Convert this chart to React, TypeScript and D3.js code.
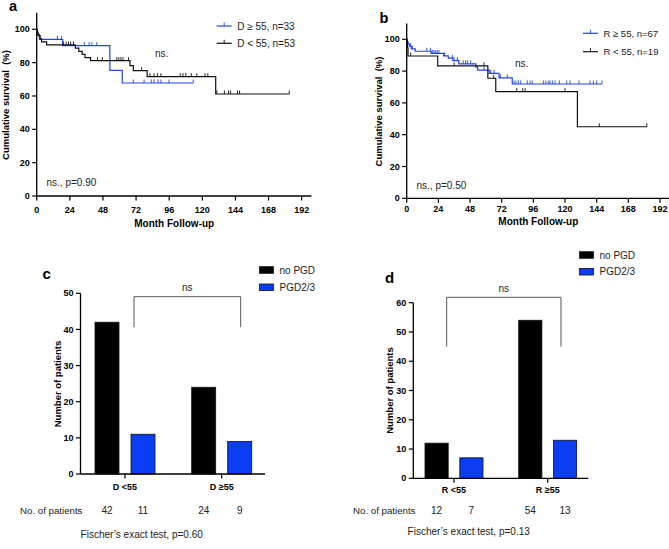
import React from "react";
import * as d3 from "d3";

const FONT = "'Liberation Sans', Arial, Helvetica, sans-serif";
const LINE_BLUE = "#2146e0";
const BAR_BLUE = "#0b3df2";
const TEXT = "#222";

// ---------- Panel a data (Kaplan–Meier, donor age) ----------
const aBlueLabel = "D ≥ 55, n=33";
const aBlueT = [0, 0.6, 2, 18.8, 53, 62];
const aBlueS = [100, 97, 93.9, 90.2, 75.4, 67.8];
const aBlueEnd = 113.4;
const aBlueCens = [15, 18, 34.5, 38, 40, 43.5, 70, 77.8, 83, 85, 88, 90, 95.9, 113.4];

const aBlackLabel = "D < 55, n=53";
const aBlackT = [0, 0.3, 1, 2.5, 3.5, 7.2, 28, 30.5, 33, 35, 39, 67.6, 70, 80, 129.7];
const aBlackS = [100, 98.1, 96.2, 94.3, 92.5, 90.6, 88.7, 86.8, 84.9, 83.0, 81.2, 78.2, 75.2, 71.6, 61.2];
const aBlackEnd = 183;
const aBlackCens = [19.3, 21.3, 23, 24.6, 26.6, 44, 47.5, 58, 59.5, 61, 62.5, 66.5, 76, 82, 85, 87.5, 90, 104, 106, 108, 112, 116, 122, 124, 130.5, 136, 139, 140.5, 145.5, 147, 183];

// ---------- Panel b data (Kaplan–Meier, recipient age) ----------
const bBlueLabel = "R ≥ 55, n=67";
const bBlueT = [0, 0.5, 1, 2, 3.5, 6.5, 18.5, 28, 31.5, 35, 39.5, 52.5, 53.8, 62.5, 70, 80];
const bBlueS = [100, 98.5, 97, 95.5, 94, 92.5, 91.1, 89.6, 88.1, 86.6, 84.6, 82.5, 80.6, 78.6, 75.8, 71.9];
const bBlueEnd = 148;
const bBlueCens = [3, 4.3, 15.2, 18, 19.4, 20.7, 22, 23.2, 24.5, 28.8, 34.6, 35.9, 38.4, 42.9, 44.7, 46, 48.5, 58.6, 63.7, 66.2, 71, 76.3, 81.4, 82.9, 84.6, 86.4, 91.4, 93.5, 95.2, 103.6, 105.4, 107.3, 108.6, 110.4, 112.4, 115.7, 121.3, 123.8, 130.6, 138.9, 141.5, 144, 148];

const bBlackLabel = "R < 55, n=19";
const bBlackT = [0, 0.5, 1, 23.5, 61.5, 67.5, 129.4];
const bBlackS = [100, 94.7, 89.5, 83.3, 75.5, 67.1, 45];
const bBlackEnd = 182;
const bBlackCens = [3, 36, 58.6, 66, 83.4, 87.9, 89.7, 120, 146, 182];

const kmXTicks = [0, 24, 48, 72, 96, 120, 144, 168, 192];
const kmYTicks = [0, 20, 40, 60, 80, 100];

// ---------- Panels c / d data (bars) ----------
const barSeries = ["no PGD", "PGD2/3"];
const cCategories = ["D <55", "D ≥55"];
const cNoPGD = [42, 24];
const cPGD = [11, 9];
const cYTicks = [0, 10, 20, 30, 40, 50];
const cP = "Fischer’s exact test, p=0.60";

const dCategories = ["R <55", "R ≥55"];
const dNoPGD = [12, 54];
const dPGD = [7, 13];
const dYTicks = [0, 10, 20, 30, 40, 50, 60];
const dP = "Fischer’s exact test, p=0.13";

type Curve = { t: number[]; s: number[]; end: number; cens: number[]; color: string; label: string };

function survAt(c: Curve, t: number) {
  let v = c.s[0];
  for (let i = 0; i < c.t.length; i++) if (c.t[i] <= t) v = c.s[i];
  return v;
}

function KMPanel(props: {
  letter: string; letterX: number; letterY: number;
  x0: number; x192: number; y0: number; y100: number;
  curves: Curve[]; legX: number; legY: number; legGap: number; legFont: number;
  nsX: number; nsY: number; pText: string; pX: number; pY: number;
  yLabX: number; yLabY: number; xLabY: number; tickLabY: number;
}) {
  const x = d3.scaleLinear().domain([0, 192]).range([props.x0, props.x192]);
  const y = d3.scaleLinear().domain([0, 100]).range([props.y0, props.y100]);
  const line = d3.line<[number, number]>().x(d => x(d[0])).y(d => y(d[1])).curve(d3.curveStepAfter);
  return (
    <g>
      <text x={props.letterX} y={props.letterY} fontFamily={FONT} fontWeight="bold" fontSize={14.5} fill="#000">{props.letter}</text>
      {props.curves.map((c, i) => {
        const pts: [number, number][] = c.t.map((t, j) => [t, c.s[j]] as [number, number]);
        pts.push([c.end, c.s[c.s.length - 1]]);
        return (
          <g key={i}>
            <path d={line(pts) || ""} fill="none" stroke={c.color} strokeWidth={1.2} />
            {c.cens.map((t, j) => {
              const v = survAt(c, t);
              return <line key={j} x1={x(t)} x2={x(t)} y1={y(v)} y2={y(v) - 3.5} stroke={c.color} strokeWidth={0.9} />;
            })}
          </g>
        );
      })}
      {/* axes */}
      <line x1={x(0)} x2={x(0)} y1={y(0)} y2={y(110)} stroke="#000" strokeWidth={1.3} />
      <line x1={x(0)} x2={x(199)} y1={y(0)} y2={y(0)} stroke="#000" strokeWidth={1.3} />
      {kmYTicks.map(t => (
        <g key={"y" + t}>
          <line x1={x(0) - 4.5} x2={x(0)} y1={y(t)} y2={y(t)} stroke="#000" strokeWidth={1.2} />
          <text x={x(0) - 7} y={y(t)} dy="0.35em" textAnchor="end" fontFamily={FONT} fontWeight="bold" fontSize={9} fill="#000">{t}</text>
        </g>
      ))}
      {kmXTicks.map(t => (
        <g key={"x" + t}>
          <line x1={x(t)} x2={x(t)} y1={y(0)} y2={y(0) + 4.5} stroke="#000" strokeWidth={1.2} />
          <text x={x(t)} y={props.tickLabY} textAnchor="middle" fontFamily={FONT} fontWeight="bold" fontSize={9} fill="#000">{t}</text>
        </g>
      ))}
      <text x={(x(0) + x(192)) / 2 + 5} y={props.xLabY} textAnchor="middle" fontFamily={FONT} fontWeight="bold" fontSize={10} fill="#000">Month Follow-up</text>
      <text transform={`translate(${props.yLabX},${props.yLabY}) rotate(-90)`} textAnchor="middle" fontFamily={FONT} fontWeight="bold" fontSize={9.5} fill="#000" style={{ whiteSpace: "pre" }}>{"Cumulative survival  (%)"}</text>
      {/* legend */}
      {props.curves.map((c, i) => {
        const ly = props.legY + i * props.legGap;
        return (
          <g key={"l" + i}>
            <line x1={props.legX} x2={props.legX + 15} y1={ly} y2={ly} stroke={c.color} strokeWidth={1.2} />
            <line x1={props.legX + 7.5} x2={props.legX + 7.5} y1={ly} y2={ly - 3.5} stroke={c.color} strokeWidth={0.9} />
            <text x={props.legX + 20.5} y={ly} dy="0.35em" fontFamily={FONT} fontSize={props.legFont} fill={TEXT}>{c.label}</text>
          </g>
        );
      })}
      <text x={props.nsX} y={props.nsY} dy="0.35em" fontFamily={FONT} fontSize={10} fill={TEXT}>ns.</text>
      <text x={props.pX} y={props.pY} dy="0.35em" fontFamily={FONT} fontSize={10} fill={TEXT}>{props.pText}</text>
    </g>
  );
}

function BarPanel(props: {
  letter: string; letterX: number; letterY: number;
  categories: string[]; a: number[]; b: number[]; yTicks: number[]; yMax: number;
  axisX: number; axisRight: number; y0: number; yTop: number;
  c0: number; c1: number; half: number;
  bracketL: number; bracketR: number; bracketY: number; bracketLeg: number;
  legX: number; legY: number; legGap: number;
  yLabX: number; yLabY: number; catY: number;
  rowLabX: number; rowY: number; pText: string; pX: number; pY: number;
}) {
  const y = d3.scaleLinear().domain([0, props.yMax]).range([props.y0, props.yTop]);
  const xg = d3.scalePoint<string>().domain(props.categories).range([props.c0, props.c1]);
  const xs = d3.scaleBand<string>().domain(barSeries).range([-props.half, props.half]).paddingInner(1 / 3);
  const vals = [props.a, props.b];
  const fills = ["#000", BAR_BLUE];
  return (
    <g>
      <text x={props.letterX} y={props.letterY} fontFamily={FONT} fontWeight="bold" fontSize={15} fill="#000">{props.letter}</text>
      {props.categories.map((cat, ci) => (
        <g key={cat}>
          {barSeries.map((s, si) => {
            const v = vals[si][ci];
            const bx = (xg(cat) as number) + (xs(s) as number);
            return <rect key={s} x={bx} y={y(v)} width={xs.bandwidth()} height={y(0) - y(v)} fill={fills[si]} stroke="#111" strokeWidth={0.8} />;
          })}
          <line x1={xg(cat)} x2={xg(cat)} y1={y(0)} y2={y(0) + 4.5} stroke="#000" strokeWidth={1.2} />
          <text x={xg(cat)} y={props.catY} textAnchor="middle" fontFamily={FONT} fontWeight="bold" fontSize={9} fill="#000">{cat}</text>
          {barSeries.map((s, si) => {
            const bx = (xg(cat) as number) + (xs(s) as number) + xs.bandwidth() / 2;
            return <text key={s} x={bx} y={props.rowY} textAnchor="middle" fontFamily={FONT} fontSize={10} fill={TEXT}>{vals[si][ci]}</text>;
          })}
        </g>
      ))}
      <line x1={props.axisX} x2={props.axisX} y1={y(0)} y2={y(props.yMax)} stroke="#000" strokeWidth={1.3} />
      <line x1={props.axisX} x2={props.axisRight} y1={y(0)} y2={y(0)} stroke="#000" strokeWidth={1.3} />
      {props.yTicks.map(t => (
        <g key={t}>
          <line x1={props.axisX - 4.5} x2={props.axisX} y1={y(t)} y2={y(t)} stroke="#000" strokeWidth={1.2} />
          <text x={props.axisX - 7} y={y(t)} dy="0.35em" textAnchor="end" fontFamily={FONT} fontWeight="bold" fontSize={9} fill="#000">{t}</text>
        </g>
      ))}
      <path d={`M${props.bracketL},${props.bracketLeg}V${props.bracketY}H${props.bracketR}V${props.bracketLeg}`} fill="none" stroke="#555" strokeWidth={1} />
      <text x={(props.bracketL + props.bracketR) / 2} y={props.bracketY - 9} dy="0.35em" textAnchor="middle" fontFamily={FONT} fontSize={10} fill={TEXT}>ns</text>
      <text transform={`translate(${props.yLabX},${props.yLabY}) rotate(-90)`} textAnchor="middle" fontFamily={FONT} fontWeight="bold" fontSize={9.5} fill="#000">Number of patients</text>
      {barSeries.map((s, si) => (
        <g key={s}>
          <rect x={props.legX} y={props.legY + si * props.legGap - 3.3} width={14} height={6.6} fill={fills[si]} stroke="#111" strokeWidth={0.8} />
          <text x={props.legX + 20} y={props.legY + si * props.legGap} dy="0.35em" fontFamily={FONT} fontSize={10} fill={TEXT}>{s}</text>
        </g>
      ))}
      <text x={props.rowLabX} y={props.rowY} fontFamily={FONT} fontSize={9.7} fill={TEXT}>No. of patients</text>
      <text x={props.pX} y={props.pY} textAnchor="middle" fontFamily={FONT} fontSize={10} fill={TEXT}>{props.pText}</text>
    </g>
  );
}

export default function App() {
  const aCurves: Curve[] = [
    { t: aBlueT, s: aBlueS, end: aBlueEnd, cens: aBlueCens, color: LINE_BLUE, label: aBlueLabel },
    { t: aBlackT, s: aBlackS, end: aBlackEnd, cens: aBlackCens, color: "#111", label: aBlackLabel },
  ];
  const bCurves: Curve[] = [
    { t: bBlueT, s: bBlueS, end: bBlueEnd, cens: bBlueCens, color: LINE_BLUE, label: bBlueLabel },
    { t: bBlackT, s: bBlackS, end: bBlackEnd, cens: bBlackCens, color: "#111", label: bBlackLabel },
  ];
  return (
    <svg width={669} height={549} style={{ position: "absolute", left: 0, top: 0, background: "#fff" }}>
      <rect width={669} height={549} fill="#fff" />
      <KMPanel letter="a" letterX={9} letterY={10.5} x0={36.7} x192={301.7} y0={196} y100={29.3}
        curves={aCurves} legX={216.7} legY={26} legGap={17.3} legFont={10}
        nsX={155} nsY={53} pText="ns., p=0.90" pX={46.5} pY={182.7}
        yLabX={8.5} yLabY={105} xLabY={226.5} tickLabY={212.5} />
      <KMPanel letter="b" letterX={379.5} letterY={23.3} x0={406.7} x192={660} y0={198.3} y100={39.3}
        curves={bCurves} legX={583} legY={33.3} legGap={18.4} legFont={9.5}
        nsX={515} nsY={63.3} pText="ns., p=0.50" pX={416.5} pY={185}
        yLabX={381.5} yLabY={111.5} xLabY={225} tickLabY={212} />
      <BarPanel letter="c" letterX={42.5} letterY={279} categories={cCategories} a={cNoPGD} b={cPGD}
        yTicks={cYTicks} yMax={50} axisX={80.5} axisRight={265} y0={474} yTop={293.3}
        c0={125} c1={221.7} half={30} bracketL={134} bracketR={240.7} bracketY={296.7} bracketLeg={327.3}
        legX={259.5} legY={270} legGap={17.3} yLabX={61} yLabY={384} catY={490}
        rowLabX={20} rowY={513.5} pText={cP} pX={141.7} pY={538} />
      <BarPanel letter="d" letterX={385} letterY={283} categories={dCategories} a={dNoPGD} b={dPGD}
        yTicks={dYTicks} yMax={60} axisX={413.3} axisRight={588.3} y0={478.3} yTop={302.7}
        c0={454} c1={547.7} half={29} bracketL={446.7} bracketR={561} bracketY={297.3} bracketLeg={346.7}
        legX={579.5} legY={255} legGap={16.7} yLabX={393} yLabY={390.5} catY={493}
        rowLabX={353} rowY={513.5} pText={dP} pX={468.7} pY={535} />
    </svg>
  );
}
